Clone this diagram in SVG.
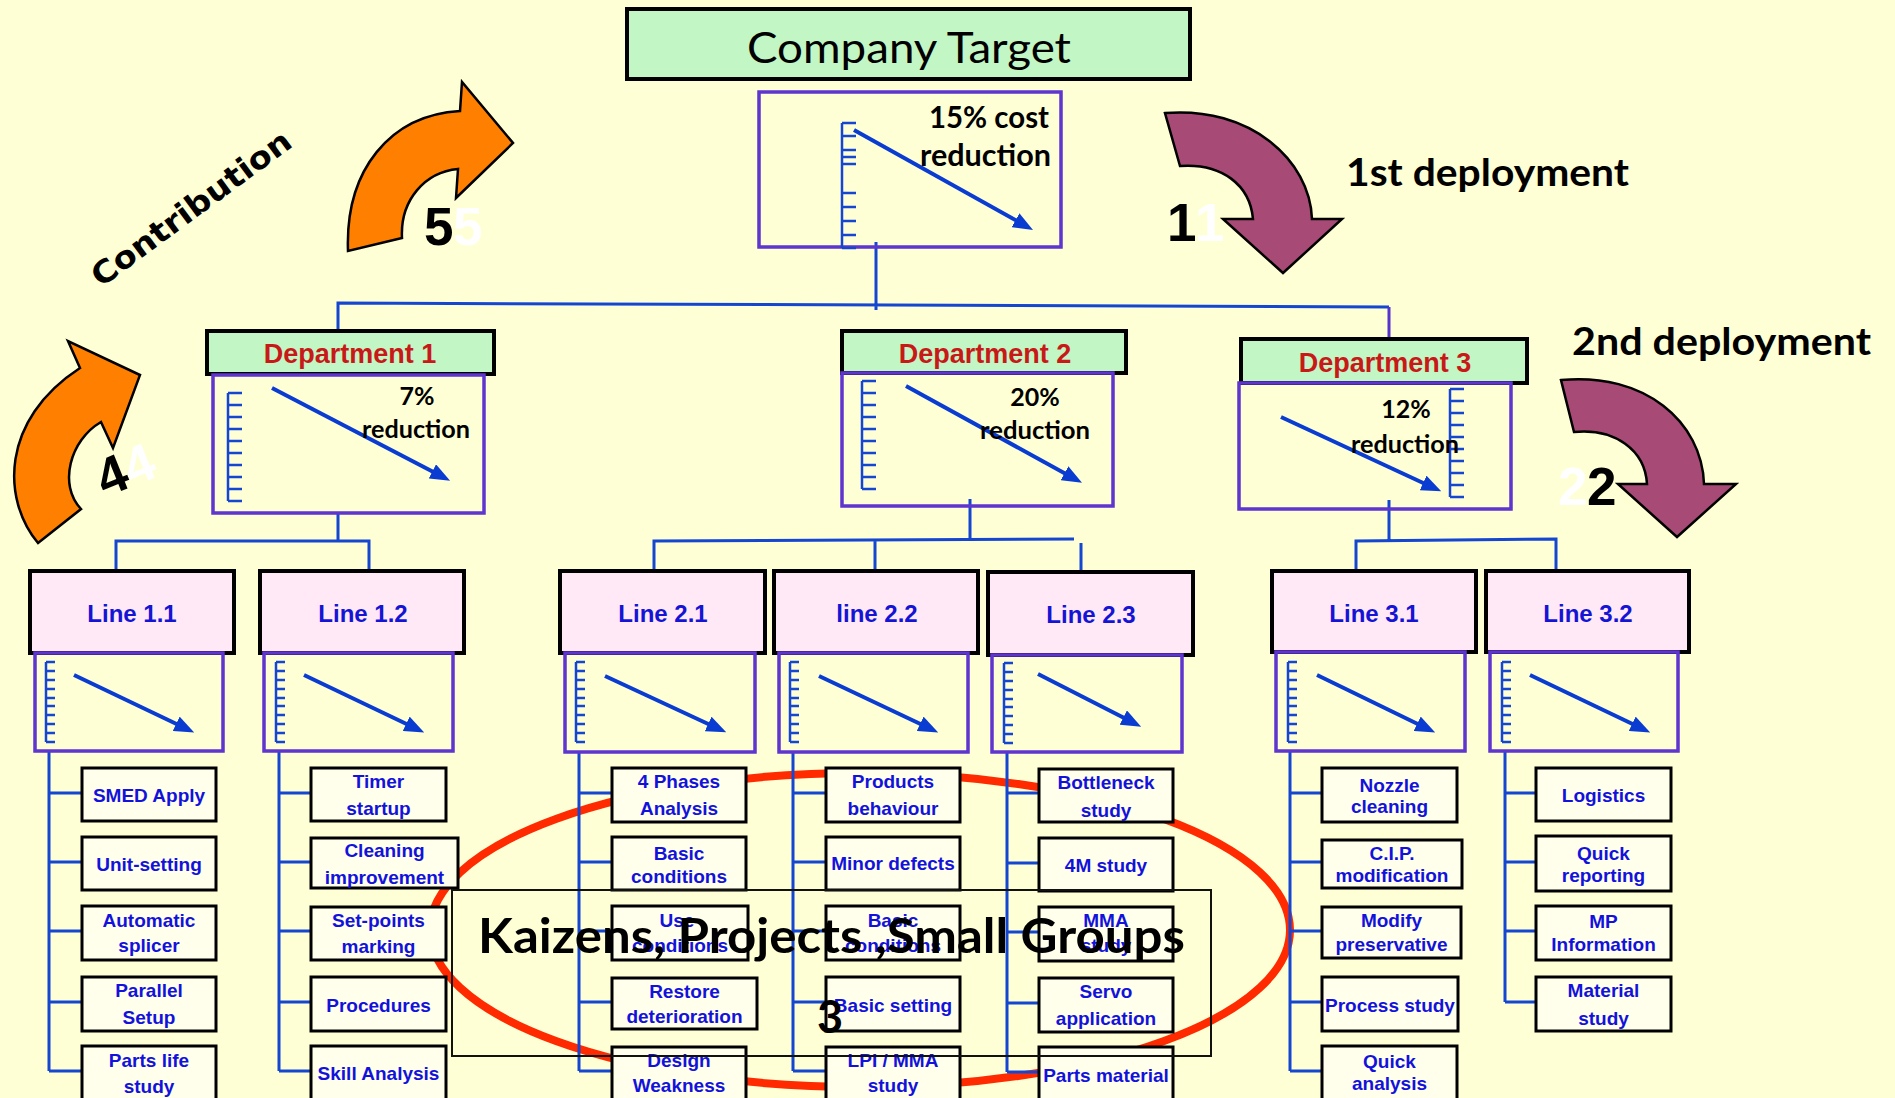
<svg xmlns="http://www.w3.org/2000/svg" width="1895" height="1098" viewBox="0 0 1895 1098">
<defs>
<style>
.hg{fill:#C2F6C4;stroke:#000;stroke-width:4}
.hp{fill:#FFE9F6;stroke:#000;stroke-width:4}
.ch{fill:none;stroke:#5E35CF;stroke-width:3.5}
.it{fill:#FFFFEC;stroke:#000;stroke-width:3}
.cn{fill:none;stroke:#1446D2;stroke-width:3}
.sc{fill:none;stroke:#1446D2;stroke-width:2.5}
.tr{fill:none;stroke:#0A3CD2;stroke-width:4;marker-end:url(#ah)}
.t{font-family:"Liberation Sans",Arial,sans-serif;font-weight:bold;font-size:19px;fill:#1212DC;text-anchor:middle}
.ln{font-size:24px;fill:#1414D4}
.dp{font-size:27px;fill:#C81818}
.cb{font-family:Lato,"Open Sans",sans-serif;font-weight:bold;fill:#000}
.ar{stroke:#000;stroke-width:2.5;stroke-linejoin:miter}
.num{font-family:"Liberation Sans",Arial,sans-serif;font-weight:bold;font-size:53px}
</style>
<marker id="ah" markerUnits="userSpaceOnUse" markerWidth="20" markerHeight="16" refX="12" refY="8" orient="auto" viewBox="0 0 20 16"><path d="M0,0L20,8L0,16z" fill="#0A3CD2"/></marker>
<path id="sl" d="M0,0V80M0,0h9M0,9h9M0,18h9M0,27h9M0,36h9M0,44h9M0,53h9M0,62h9M0,71h9M0,80h9"/>
<path id="sd" d="M0,0V108M0,0h14M0,12h14M0,24h14M0,36h14M0,48h14M0,60h14M0,72h14M0,84h14M0,96h14M0,108h14"/>
</defs>
<rect width="1895" height="1098" fill="#FFFFD6"/>
<ellipse id="kaizen-ellipse" cx="860" cy="930" rx="430" ry="157" fill="none" stroke="#FF2A00" stroke-width="8"/>

<g id="connectors">
<path class="cn" d="M876,242V310M338,331V303L1389,307"/>
<path fill="none" stroke="#5533CC" stroke-width="3" d="M1389,307V339"/>
<path class="cn" d="M338,513V541M116,571V541H369V571"/>
<path class="cn" d="M970,499V540M654,571V541L1074,539M875,540V571M1081,543V570"/>
<path class="cn" d="M1389,500V540M1356,571V541L1556,539V571"/>
<path class="cn" d="M49,751V1071M49,793H82M49,862H82M49,931H82M49,1002H82M49,1071H82"/>
<path class="cn" d="M279,751V1071M279,793H311M279,862H311M279,931H311M279,1002H311M279,1071H311"/>
<path class="cn" d="M579,752V1071M579,793H612M579,862H612M579,931H612M579,1002H612M579,1071H612"/>
<path class="cn" d="M793,752V1071M793,793H826M793,862H826M793,931H826M793,1002H826M793,1071H826"/>
<path class="cn" d="M1007,752V1072M1007,793H1039M1007,863H1039M1007,932H1039M1007,1003H1039M1007,1072H1039"/>
<path class="cn" d="M1290,751V1071M1290,793H1322M1290,862H1322M1290,931H1322M1290,1002H1322M1290,1071H1322"/>
<path class="cn" d="M1505,751V1002M1505,793H1536M1505,862H1536M1505,931H1536M1505,1002H1536"/>
</g>

<g id="company-target">
<rect class="hg" x="627" y="9" width="563" height="70"/>
<text x="909" y="63" font-family="Lato,'Open Sans',sans-serif" font-size="42" fill="#000" text-anchor="middle" textLength="324" lengthAdjust="spacingAndGlyphs">Company Target</text>
<rect class="ch" x="759" y="92" width="302" height="155"/>
<path class="sc" d="M842,123V248M842,123h14M842,136h14M842,150h14M842,157h14M842,164h14M842,193h14M842,207h14M842,221h14M842,235h14M842,248h14"/>
<path class="tr" d="M854,130L1026,226"/>
<text class="cb" x="1049" y="128" font-size="30" text-anchor="end" textLength="120" lengthAdjust="spacingAndGlyphs">15% cost</text>
<text class="cb" x="1051" y="166" font-size="30" text-anchor="end" textLength="131" lengthAdjust="spacingAndGlyphs">reduction</text>
</g>

<g id="department-1">
<rect class="hg" x="207" y="331" width="287" height="43"/>
<text class="t dp" x="350" y="363">Department 1</text>
<rect class="ch" x="213" y="375" width="271" height="138"/>
<use href="#sd" class="sc" x="228" y="393"/>
<path class="tr" d="M272,388L443,477"/>
<text class="cb" x="417" y="405" font-size="25" text-anchor="middle">7%</text>
<text class="cb" x="416" y="438" font-size="25" text-anchor="middle" textLength="108" lengthAdjust="spacingAndGlyphs">reduction</text>
</g>

<g id="department-2">
<rect class="hg" x="842" y="331" width="284" height="42"/>
<text class="t dp" x="985" y="363">Department 2</text>
<rect class="ch" x="842" y="373" width="271" height="133"/>
<use href="#sd" class="sc" x="862" y="381"/>
<path class="tr" d="M906,386L1075,479"/>
<text class="cb" x="1035" y="406" font-size="25" text-anchor="middle">20%</text>
<text class="cb" x="1035" y="439" font-size="25" text-anchor="middle" textLength="110" lengthAdjust="spacingAndGlyphs">reduction</text>
</g>

<g id="department-3">
<rect class="hg" x="1241" y="339" width="286" height="44"/>
<text class="t dp" x="1385" y="372">Department 3</text>
<rect class="ch" x="1239" y="383" width="272" height="126"/>
<use href="#sd" class="sc" x="1450" y="389"/>
<path class="tr" d="M1281,417L1434,488"/>
<text class="cb" x="1406" y="418" font-size="25" text-anchor="middle">12%</text>
<text class="cb" x="1405" y="453" font-size="25" text-anchor="middle" textLength="108" lengthAdjust="spacingAndGlyphs">reduction</text>
</g>

<g id="line-1-1">
<rect class="hp" x="30" y="571" width="204" height="82"/>
<text class="t ln" x="132" y="622">Line 1.1</text>
<rect class="ch" x="35" y="653" width="188" height="98"/>
<use href="#sl" class="sc" x="46" y="662"/>
<path class="tr" d="M74,675L187,729"/>
</g>
<g id="line-1-2">
<rect class="hp" x="260" y="571" width="204" height="82"/>
<text class="t ln" x="363" y="622">Line 1.2</text>
<rect class="ch" x="264" y="653" width="189" height="98"/>
<use href="#sl" class="sc" x="276" y="662"/>
<path class="tr" d="M304,675L417,729"/>
</g>
<g id="line-2-1">
<rect class="hp" x="560" y="571" width="205" height="82"/>
<text class="t ln" x="663" y="622">Line 2.1</text>
<rect class="ch" x="565" y="653" width="190" height="99"/>
<use href="#sl" class="sc" x="576" y="662"/>
<path class="tr" d="M605,676L719,729"/>
</g>
<g id="line-2-2">
<rect class="hp" x="774" y="571" width="204" height="82"/>
<text class="t ln" x="877" y="622">line 2.2</text>
<rect class="ch" x="779" y="653" width="189" height="99"/>
<use href="#sl" class="sc" x="790" y="662"/>
<path class="tr" d="M819,676L931,729"/>
</g>
<g id="line-2-3">
<rect class="hp" x="988" y="572" width="205" height="83"/>
<text class="t ln" x="1091" y="623">Line 2.3</text>
<rect class="ch" x="992" y="655" width="190" height="97"/>
<use href="#sl" class="sc" x="1004" y="663"/>
<path class="tr" d="M1038,674L1134,723"/>
</g>
<g id="line-3-1">
<rect class="hp" x="1272" y="571" width="204" height="81"/>
<text class="t ln" x="1374" y="622">Line 3.1</text>
<rect class="ch" x="1276" y="652" width="189" height="99"/>
<use href="#sl" class="sc" x="1288" y="662"/>
<path class="tr" d="M1317,675L1428,729"/>
</g>
<g id="line-3-2">
<rect class="hp" x="1486" y="571" width="203" height="81"/>
<text class="t ln" x="1588" y="622">Line 3.2</text>
<rect class="ch" x="1490" y="652" width="188" height="99"/>
<use href="#sl" class="sc" x="1502" y="662"/>
<path class="tr" d="M1530,675L1643,729"/>
</g>

<g id="items-1-1">
<g id="i-smed"><rect class="it" x="82" y="768" width="134" height="53"/><text class="t" x="149" y="802">SMED Apply</text></g>
<g id="i-unit"><rect class="it" x="82" y="837" width="134" height="53"/><text class="t" x="149" y="871">Unit-setting</text></g>
<g id="i-splicer"><rect class="it" x="82" y="906" width="134" height="54"/><text class="t" x="149" y="927">Automatic</text><text class="t" x="149" y="952">splicer</text></g>
<g id="i-parallel"><rect class="it" x="82" y="977" width="134" height="54"/><text class="t" x="149" y="997">Parallel</text><text class="t" x="149" y="1024">Setup</text></g>
<g id="i-partslife"><rect class="it" x="82" y="1046" width="134" height="56"/><text class="t" x="149" y="1067">Parts life</text><text class="t" x="149" y="1093">study</text></g>
</g>
<g id="items-1-2">
<g id="i-timer"><rect class="it" x="311" y="768" width="135" height="53"/><text class="t" x="378.5" y="788">Timer</text><text class="t" x="378.5" y="815">startup</text></g>
<g id="i-cleaning"><rect class="it" x="311" y="838" width="147" height="50"/><text class="t" x="384.5" y="857">Cleaning</text><text class="t" x="384.5" y="884">improvement</text></g>
<g id="i-setpoints"><rect class="it" x="311" y="907" width="135" height="53"/><text class="t" x="378.5" y="927">Set-points</text><text class="t" x="378.5" y="953">marking</text></g>
<g id="i-procedures"><rect class="it" x="311" y="977" width="135" height="54"/><text class="t" x="378.5" y="1012">Procedures</text></g>
<g id="i-skill"><rect class="it" x="311" y="1046" width="135" height="56"/><text class="t" x="378.5" y="1080">Skill Analysis</text></g>
</g>
<g id="items-2-1">
<g id="i-4phases"><rect class="it" x="612" y="768" width="134" height="54"/><text class="t" x="679" y="788">4 Phases</text><text class="t" x="679" y="815">Analysis</text></g>
<g id="i-basiccond1"><rect class="it" x="612" y="837" width="134" height="53"/><text class="t" x="679" y="860">Basic</text><text class="t" x="679" y="883">conditions</text></g>
<g id="i-usecond"><rect class="it" x="612" y="906" width="136" height="54"/><text class="t" x="680" y="927">Use-</text><text class="t" x="680" y="952">conditions</text></g>
<g id="i-restore"><rect class="it" x="612" y="978" width="145" height="51"/><text class="t" x="684.5" y="998">Restore</text><text class="t" x="684.5" y="1023">deterioration</text></g>
<g id="i-design"><rect class="it" x="612" y="1047" width="134" height="55"/><text class="t" x="679" y="1067">Design</text><text class="t" x="679" y="1092">Weakness</text></g>
</g>
<g id="items-2-2">
<g id="i-products"><rect class="it" x="826" y="768" width="134" height="54"/><text class="t" x="893" y="788">Products</text><text class="t" x="893" y="815">behaviour</text></g>
<g id="i-minor"><rect class="it" x="826" y="837" width="134" height="53"/><text class="t" x="893" y="870">Minor defects</text></g>
<g id="i-basiccond2"><rect class="it" x="826" y="906" width="134" height="54"/><text class="t" x="893" y="927">Basic</text><text class="t" x="893" y="952">conditions</text></g>
<g id="i-basicset"><rect class="it" x="826" y="977" width="134" height="54"/><text class="t" x="893" y="1012">Basic setting</text></g>
<g id="i-lpi"><rect class="it" x="826" y="1047" width="134" height="55"/><text class="t" x="893" y="1067">LPI / MMA</text><text class="t" x="893" y="1092">study</text></g>
</g>
<g id="items-2-3">
<g id="i-bottleneck"><rect class="it" x="1039" y="769" width="134" height="53"/><text class="t" x="1106" y="789">Bottleneck</text><text class="t" x="1106" y="817">study</text></g>
<g id="i-4m"><rect class="it" x="1039" y="838" width="134" height="53"/><text class="t" x="1106" y="872">4M study</text></g>
<g id="i-mma"><rect class="it" x="1039" y="907" width="134" height="54"/><text class="t" x="1106" y="927">MMA</text><text class="t" x="1106" y="952">study</text></g>
<g id="i-servo"><rect class="it" x="1039" y="978" width="134" height="54"/><text class="t" x="1106" y="998">Servo</text><text class="t" x="1106" y="1025">application</text></g>
<g id="i-partsmat"><rect class="it" x="1039" y="1047" width="134" height="55"/><text class="t" x="1106" y="1082">Parts material</text></g>
</g>
<g id="items-3-1">
<g id="i-nozzle"><rect class="it" x="1322" y="768" width="135" height="54"/><text class="t" x="1389.5" y="792">Nozzle</text><text class="t" x="1389.5" y="813">cleaning</text></g>
<g id="i-cip"><rect class="it" x="1322" y="840" width="140" height="48"/><text class="t" x="1392" y="860">C.I.P.</text><text class="t" x="1392" y="882">modification</text></g>
<g id="i-modify"><rect class="it" x="1322" y="907" width="139" height="51"/><text class="t" x="1391.5" y="927">Modify</text><text class="t" x="1391.5" y="951">preservative</text></g>
<g id="i-process"><rect class="it" x="1322" y="977" width="136" height="54"/><text class="t" x="1390" y="1012">Process study</text></g>
<g id="i-quickan"><rect class="it" x="1322" y="1046" width="135" height="56"/><text class="t" x="1389.5" y="1068">Quick</text><text class="t" x="1389.5" y="1090">analysis</text></g>
</g>
<g id="items-3-2">
<g id="i-logistics"><rect class="it" x="1536" y="768" width="135" height="53"/><text class="t" x="1603.5" y="802">Logistics</text></g>
<g id="i-quickrep"><rect class="it" x="1536" y="836" width="135" height="55"/><text class="t" x="1603.5" y="860">Quick</text><text class="t" x="1603.5" y="882">reporting</text></g>
<g id="i-mp"><rect class="it" x="1536" y="906" width="135" height="54"/><text class="t" x="1603.5" y="928">MP</text><text class="t" x="1603.5" y="951">Information</text></g>
<g id="i-material"><rect class="it" x="1536" y="977" width="135" height="54"/><text class="t" x="1603.5" y="997">Material</text><text class="t" x="1603.5" y="1025">study</text></g>
</g>

<g id="arrow-1">
<path class="ar" fill="#A84A76" d="M1165,113C1250,106 1310,160 1312,219L1342,219L1283,273L1223,219L1253,219C1250,185 1222,163 1180,166Z"/>
<text class="num" x="1167" y="241" fill="#000">1</text>
<text class="num" x="1195" y="241" fill="#FFF">1</text>
</g>
<g id="arrow-2">
<path class="ar" fill="#A84A76" d="M1561,380C1645,372 1702,422 1704,484L1736,484L1677,537L1618,484L1647,484C1645,450 1615,428 1574,432Z"/>
<text class="num" x="1558" y="505" fill="#FFF">2</text>
<text class="num" x="1587" y="505" fill="#000">2</text>
</g>
<g id="arrow-5">
<path class="ar" fill="#FF7F00" d="M348,251C345,170 390,115 460,111L462,82L513,143L456,198L458,169C425,172 400,200 402,238Z"/>
<text class="num" x="424" y="245" fill="#000">5</text>
<text class="num" x="453" y="245" fill="#FFF">5</text>
</g>
<g id="arrow-4">
<path class="ar" fill="#FF7F00" d="M38,543C2,500 0,420 80,368L68,341L140,375L113,448L101,422C70,440 58,485 81,509Z"/>
<g transform="rotate(-22 125 469)">
<text class="num" x="110.5" y="488" fill="#000" text-anchor="middle">4</text>
<text class="num" x="139.5" y="488" fill="#FFF" text-anchor="middle">4</text>
</g>
</g>

<g id="labels">
<text class="cb" x="1346" y="186" font-size="38" textLength="283" lengthAdjust="spacingAndGlyphs">1st deployment</text>
<text class="cb" x="1572" y="355" font-size="38" textLength="299" lengthAdjust="spacingAndGlyphs">2nd deployment</text>
<text x="191" y="219" transform="rotate(-36.4 191 208)" font-family="'DejaVu Sans',sans-serif" font-weight="bold" font-size="31" fill="#000" text-anchor="middle" textLength="240" lengthAdjust="spacingAndGlyphs">Contribution</text>
</g>

<g id="kaizens">
<rect x="452" y="890" width="759" height="166" fill="none" stroke="#111" stroke-width="2"/>
<text class="cb" x="478" y="953" font-size="47" font-weight="900" textLength="707" lengthAdjust="spacingAndGlyphs">Kaizens, Projects ,Small Groups</text>
<text class="cb" x="817" y="1033" font-size="45" font-weight="900">3</text>
</g>
</svg>
